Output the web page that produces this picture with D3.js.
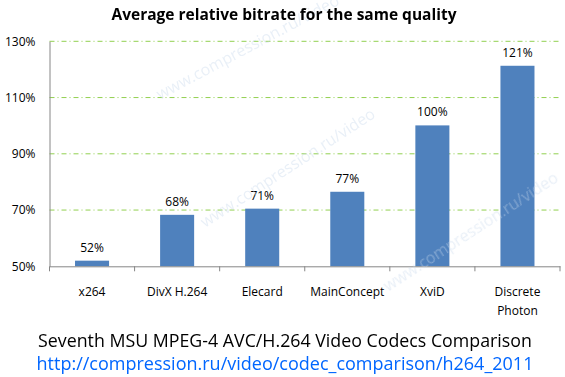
<!DOCTYPE html>
<html>
<head>
<meta charset="utf-8">
<script src="https://cdn.jsdelivr.net/npm/d3@7"></script>
<style>
  body { margin: 0; background: #fff; }
  svg { display: block; font-family: "Open Sans", sans-serif; }
</style>
</head>
<body>
<svg id="chart" width="565" height="377"></svg>
<script>
// chart data
const codecs = ["x264", "DivX H.264", "Elecard", "MainConcept", "XviD", "Discrete Photon"];
const bitrates = [52, 68.3, 70.5, 76.5, 100.1, 121.3];
const barLabels = ["52%", "68%", "71%", "77%", "100%", "121%"];
const yTicks = [50, 70, 90, 110, 130];

const svg = d3.select("#chart");
const margin = { left: 49.5, right: 5, top: 41.3, bottom: 110.7 };
const width = 565 - margin.left - margin.right;
const height = 377 - margin.top - margin.bottom;

const g = svg.append("g").attr("transform", `translate(${margin.left},${margin.top})`);

const x = d3.scaleBand().domain(codecs).range([0, width]).paddingInner(0.6).paddingOuter(0.3);
const y = d3.scaleLinear().domain([50, 130]).range([height, 0]);

// gridlines
g.selectAll(".grid").data(yTicks.filter(d => d > 50)).join("line")
  .attr("x1", 0).attr("x2", width)
  .attr("y1", d => y(d)).attr("y2", d => y(d))
  .attr("stroke", "#92d050").attr("stroke-width", 1)
  .attr("stroke-dasharray", "5,3,1,3");

// bars
g.selectAll(".bar").data(codecs).join("rect")
  .attr("x", d => x(d))
  .attr("width", x.bandwidth())
  .attr("y", (d, i) => y(bitrates[i]))
  .attr("height", (d, i) => height - y(bitrates[i]))
  .attr("fill", "#4f81bd");

// watermark overlay, faint
const wm = svg.append("g").attr("fill", "#c9d9ec").attr("opacity", 0.4)
  .style("font-size", "16px");
wm.append("text").attr("transform", "translate(160,100) rotate(-28)").text("www.compression.ru/video");
wm.append("text").attr("transform", "translate(205,228) rotate(-33)").text("www.compression.ru/video");
wm.append("text").attr("transform", "translate(388,292) rotate(-33)").text("www.compression.ru/video");

// bar labels
g.selectAll(".lbl").data(codecs).join("text")
  .attr("x", d => x(d) + x.bandwidth() / 2)
  .attr("y", (d, i) => y(bitrates[i]) - 9)
  .attr("text-anchor", "middle")
  .style("font-size", "12px")
  .attr("fill", "#000")
  .text((d, i) => barLabels[i]);

// y axis
const yAxis = g.append("g").call(d3.axisLeft(y).tickValues(yTicks).tickSize(0).tickPadding(14).tickFormat(d => d + "%"));
yAxis.select(".domain").attr("stroke", "#868686");
yAxis.selectAll("text").style("font-size", "12px").style("font-family", "Open Sans").attr("fill", "#000");

// x axis
const xAxis = g.append("g").attr("transform", `translate(0,${height})`)
  .call(d3.axisBottom(x).tickSize(0).tickFormat(""));
xAxis.select(".domain").attr("stroke", "#868686");
const bounds = [0].concat(codecs.map(d => x(d) + x.bandwidth() / 2 + x.step() / 2));
xAxis.selectAll(".sep").data(bounds).join("line")
  .attr("x1", d => d).attr("x2", d => d).attr("y1", 0).attr("y2", 5)
  .attr("stroke", "#868686");

// category labels (wrap two-word long name)
const catLines = codecs.map(d => d === "Discrete Photon" ? ["Discrete", "Photon"] : [d]);
codecs.forEach((c, i) => {
  const t = g.append("text")
    .attr("x", x(c) + x.bandwidth() / 2)
    .attr("y", height + 30)
    .attr("text-anchor", "middle")
    .style("font-size", "12px");
  catLines[i].forEach((line, j) => {
    t.append("tspan").attr("x", x(c) + x.bandwidth() / 2).attr("dy", j === 0 ? 0 : 19).text(line);
  });
});

// title
svg.append("text").attr("x", 284).attr("y", 20).attr("text-anchor", "middle")
  .style("font-size", "15.5px").style("font-weight", "bold")
  .text("Average relative bitrate for the same quality");

// caption
svg.append("text").attr("x", 285).attr("y", 347).attr("text-anchor", "middle")
  .style("font-size", "17.8px").attr("fill", "#000")
  .text("Seventh MSU MPEG-4 AVC/H.264 Video Codecs Comparison");
svg.append("text").attr("x", 285).attr("y", 370).attr("text-anchor", "middle")
  .style("font-size", "18px").attr("fill", "#0066ff")
  .text("http://compression.ru/video/codec_comparison/h264_2011");
</script>
</body>
</html>
